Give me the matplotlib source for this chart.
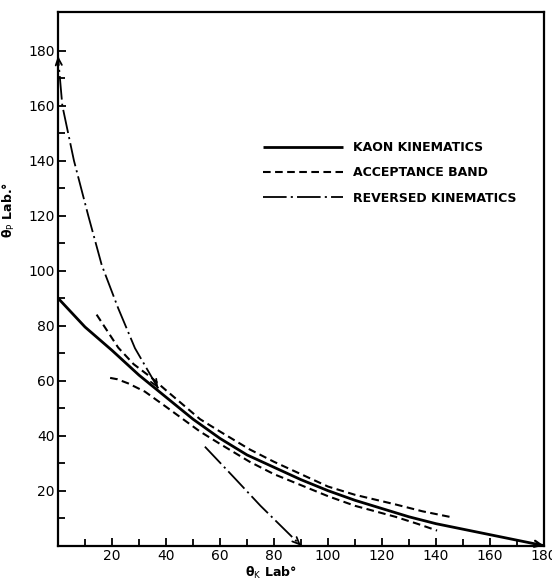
import matplotlib
matplotlib.use("Agg")
import matplotlib.pyplot as plt
import numpy as np

plt.rcParams['font.family'] = ['DejaVu Sans']
plt.rcParams['lines.scale_dashes'] = False

# Kaon kinematics (solid)
kaon_x = [0, 10, 20, 30, 40, 50, 60, 70, 80, 90, 100, 110, 120, 130, 140, 150, 160, 170, 180]
kaon_y = [90, 79.5, 71, 62, 54, 46, 39, 33, 28.5, 24, 20, 16.5, 13.5, 10.5, 8, 6, 4, 2, 0]

# Acceptance band (dashed): upper and lower edges
band_up_x = [14.3, 22.3, 28, 34.7, 40, 52.6, 60, 71, 80, 90, 100, 110, 125, 135, 145]
band_up_y = [84, 72, 66, 61, 56.5, 46, 41.5, 35, 30.5, 26, 21.5, 18.5, 15, 12.5, 10.5]
band_lo_x = [19.3, 22, 26, 32.2, 40, 52.6, 60, 71, 80, 90, 100, 110, 125, 133, 140.4]
band_lo_y = [61, 60.5, 59, 56, 50.5, 41.5, 37, 30.5, 26, 22, 18, 14.5, 10.5, 8, 5.5]

# Reversed kinematics (dash-dot), two visible pieces
rev1_x = [37.1, 28.5, 22.3, 16.2, 11.2, 5.9, 1.6, 0]
rev1_y = [57.2, 71.8, 86.3, 102, 120, 140, 160, 178]
rev2_x = [54.4, 65, 75, 90]
rev2_y = [36, 25, 14.5, 0]

x_ticks = [20, 40, 60, 80, 100, 120, 140, 160, 180]
y_ticks = [20, 40, 60, 80, 100, 120, 140, 160, 180]

legend_labels = ["KAON KINEMATICS", "ACCEPTANCE BAND", "REVERSED KINEMATICS"]

fig = plt.figure(figsize=(5.52, 5.84), dpi=100)
ax = fig.add_axes([58/552, 1-545.7/584, (544-58)/552, (545.7-12)/584])

lw_solid = 2.0
lw_dash = 1.5
dash_band = (0, (5.5, 3.2))
dash_rev = (0, (17, 3, 1.5, 3))

l1, = ax.plot(kaon_x, kaon_y, color='black', lw=lw_solid, solid_capstyle='butt')
l2, = ax.plot(band_up_x, band_up_y, color='black', lw=lw_dash, linestyle=dash_band)
ax.plot(band_lo_x, band_lo_y, color='black', lw=lw_dash, linestyle=dash_band)
l3, = ax.plot(rev1_x, rev1_y, color='black', lw=1.3, linestyle=dash_rev)
ax.plot(rev2_x, rev2_y, color='black', lw=1.3, linestyle=dash_rev)

def arrow_at_end(xs, ys, lw):
    ex, ey = xs[-1], ys[-1]
    px, py = xs[-2], ys[-2]
    sx = ex + 0.02 * (px - ex)
    sy = ey + 0.02 * (py - ey)
    ax.annotate('', xy=(ex, ey), xytext=(sx, sy),
                arrowprops=dict(arrowstyle='->,head_length=0.5,head_width=0.22',
                                lw=lw, color='black', shrinkA=0, shrinkB=0))

arrow_at_end(kaon_x, kaon_y, 1.6)
arrow_at_end(rev1_x, rev1_y, 1.3)
arrow_at_end(rev1_x[::-1], rev1_y[::-1], 1.3)
arrow_at_end(rev2_x, rev2_y, 1.3)

ax.set_xlim(0, 180)
ax.set_ylim(0, 194)
ax.set_xticks(x_ticks)
ax.set_yticks(y_ticks)
ax.set_xticks(np.arange(10, 180, 20), minor=True)
ax.set_yticks(np.arange(10, 190, 20), minor=True)
ax.tick_params(which='both', direction='in', width=1.3, labelsize=10, pad=2.5)
ax.tick_params(which='major', length=6)
ax.tick_params(which='minor', length=5)
ax.tick_params(top=False, right=False, which='both')
for s in ax.spines.values():
    s.set_linewidth(1.6)

ax.set_xlabel("θ$_\\mathrm{K}$ Lab°", fontsize=9, fontweight='bold')
ax.xaxis.set_label_coords(0.437, -0.036)
ax.set_ylabel("θ$_\\mathrm{P}$ Lab.°", fontsize=9, fontweight='bold')
ax.yaxis.set_label_coords(-0.085, 0.629)

leg = ax.legend([l1, l2, l3], legend_labels, loc='upper left',
                bbox_to_anchor=(263/552, 1-141/584), bbox_transform=fig.transFigure,
                frameon=False, prop={'size': 9, 'weight': 'bold'},
                handlelength=6.4, handletextpad=0.8,
                labelspacing=0.98, borderpad=0, borderaxespad=0)

fig.savefig("out.png", dpi=100)
